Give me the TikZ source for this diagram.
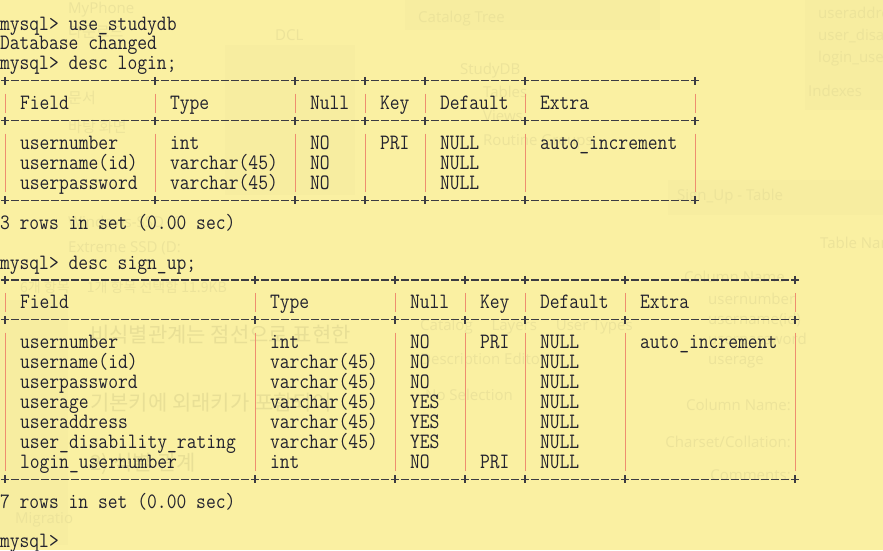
\documentclass[tikz,border=0pt]{standalone}
\usepackage{fontspec}
\setsansfont{Open Sans}
\newfontfamily\krfont{Noto Sans CJK KR}
\usepackage{graphicx}
\definecolor{bg}{RGB}{250,240,162}
\definecolor{fg}{RGB}{34,34,46}
\definecolor{pipec}{RGB}{238,142,112}
\definecolor{dashc}{RGB}{60,60,66}
\definecolor{ghost}{RGB}{236,227,154}
\definecolor{ghostk}{RGB}{232,223,150}
\definecolor{ghostp}{RGB}{247,237,160}
\tikzset{
  txt/.style={anchor=base west, inner sep=0pt, outer sep=0pt,
    font=\ttfamily\fontsize{19.05}{20}\selectfont, text=fg},
  gtxt/.style={anchor=base west, inner sep=0pt, text=ghost,
    font=\sffamily\fontsize{15}{18}\selectfont},
  gkr/.style={anchor=base west, inner sep=0pt, text=ghostk,
    font=\krfont\fontsize{21}{24}\selectfont},
  gpanel/.style={fill=ghostp, draw=none},
  dashline/.style={draw=dashc, line width=1.2pt, dash pattern=on 8pt off 2pt},
  plusline/.style={draw=dashc, line width=1.1pt},
  pipeline/.style={draw=pipec, line width=1.0pt}
}
\newcommand\cells[2]{%
  \foreach \c/\t in {#2}{%
    \node[txt] (n#1x\c) at ({10*\c},{10.1+19.92*#1}) {\scalebox{1}[1.15]{\t}};
  }}
\newcommand\tblborder[3]{%
  \pgfmathsetmacro\yy{10.1+19.92*#1-9}
  \draw[dashline] (1,\yy) -- ({10*#2+9},\yy);
  \foreach \p in {#3}{\draw[plusline] ({10*\p+5},{\yy-4}) -- ({10*\p+5},{\yy+4});}
}
\newcommand\pipes[3]{%
  \pgfmathsetmacro\ya{10.1+19.92*#1-16}
  \pgfmathsetmacro\yb{10.1+19.92*#2+3}
  \foreach \p in {#3}{\draw[pipeline] ({10*\p+5},\ya) -- ({10*\p+5},\yb);}
}
\begin{document}
\begin{tikzpicture}[x=1pt,y=-1pt]
\fill[bg] (0,0) rectangle (883,550);
\useasboundingbox (0,0) rectangle (883,550);

% faint background window (seen through the terminal)
\fill[gpanel] (405,0) rectangle (660,30);
\fill[gpanel] (225,45) rectangle (355,195);
\fill[gpanel] (668,180) rectangle (883,215);
\fill[gpanel] (0,300) rectangle (68,545);
\fill[gpanel] (805,0) rectangle (883,110);
\node[gtxt] (g1) at (68,13) {MyPhone};
\node[gtxt] (g2) at (275,40) {DCL};
\node[gtxt] (g3) at (418,22) {Catalog Tree};
\node[gtxt] (g4) at (460,74) {StudyDB};
\node[gtxt] (g5) at (483,97) {Tables};
\node[gtxt] (g6) at (483,121) {Views};
\node[gtxt] (g7) at (483,145) {Routine Groups};
\node[gtxt] (g8) at (68,227) {Windows-SSD (C};
\node[gtxt] (g9) at (68,252) {Extreme SSD (D:};
\node[gtxt, font=\krfont\fontsize{14}{16}\selectfont] (g10) at (20,292) {6개 항목 \quad 1개 항목 선택함 11.9KB};
\node[gkr] (k1) at (90,342) {비식별관계는 점선으로 표현한};
\node[gkr] (k2) at (90,410) {기본키에 외래키가 포함되어};
\node[gkr] (k3) at (90,470) {2) 식별 관계};
\node[gtxt, font=\krfont\fontsize{15}{18}\selectfont] (k4) at (68,37) {다운로드};
\node[gtxt, font=\krfont\fontsize{15}{18}\selectfont] (k5) at (68,103) {문서};
\node[gtxt, font=\krfont\fontsize{15}{18}\selectfont] (k6) at (68,132) {바탕 화면};
\node[gtxt] (g11) at (15,523) {Migratio};
\node[gtxt] (g12) at (818,18) {useraddress V};
\node[gtxt] (g13) at (818,40) {user\_disabilit};
\node[gtxt] (g14) at (818,62) {login\_usernu};
\node[gtxt] (g15) at (808,96) {Indexes};
\node[gtxt] (g16) at (677,200) {Sign\_Up - Table};
\node[gtxt] (g17) at (820,248) {Table Nam};
\node[gtxt] (g18) at (684,282) {Column Name};
\node[gtxt] (g19) at (708,304) {usernumber};
\node[gtxt] (g20) at (708,324) {username(id)};
\node[gtxt] (g21) at (708,344) {userpassword};
\node[gtxt] (g22) at (708,364) {userage};
\node[gtxt, anchor=base east] (g23) at (791,410) {Column Name:};
\node[gtxt, anchor=base east] (g24) at (791,447) {Charset/Collation:};
\node[gtxt, anchor=base east] (g25) at (791,480) {Comments:};
\node[gtxt] (g26) at (420,330) {Catalog \quad Layers \quad User Types};
\node[gtxt] (g27) at (420,364) {Description Editor};
\node[gtxt] (g28) at (425,400) {No Selection};

% session text
\cells{1}{0/mysql> use\_studydb}
\cells{2}{0/Database changed}
\cells{3}{0/mysql> desc login;}

% login table
\tblborder{4}{69}{0,15,29,36,42,52,69}
\pipes{5}{5}{0,15,29,36,42,52,69}
\cells{5}{2/Field,17/Type,31/Null,38/Key,44/Default,54/Extra}
\tblborder{6}{69}{0,15,29,36,42,52,69}
\pipes{7}{9}{0,15,29,36,42,52,69}
\cells{7}{2/usernumber,17/int,31/NO,38/PRI,44/NULL,54/auto\_increment}
\cells{8}{2/username(id),17/varchar(45),31/NO,44/NULL}
\cells{9}{2/userpassword,17/varchar(45),31/NO,44/NULL}
\tblborder{10}{69}{0,15,29,36,42,52,69}
\cells{11}{0/3 rows in set (0.00 sec)}

\cells{13}{0/mysql> desc sign\_up;}

% sign_up table
\tblborder{14}{79}{0,25,39,46,52,62,79}
\pipes{15}{15}{0,25,39,46,52,62,79}
\cells{15}{2/Field,27/Type,41/Null,48/Key,54/Default,64/Extra}
\tblborder{16}{79}{0,25,39,46,52,62,79}
\pipes{17}{23}{0,25,39,46,52,62,79}
\cells{17}{2/usernumber,27/int,41/NO,48/PRI,54/NULL,64/auto\_increment}
\cells{18}{2/username(id),27/varchar(45),41/NO,54/NULL}
\cells{19}{2/userpassword,27/varchar(45),41/NO,54/NULL}
\cells{20}{2/userage,27/varchar(45),41/YES,54/NULL}
\cells{21}{2/useraddress,27/varchar(45),41/YES,54/NULL}
\cells{22}{2/user\_disability\_rating,27/varchar(45),41/YES,54/NULL}
\cells{23}{2/login\_usernumber,27/int,41/NO,48/PRI,54/NULL}
\tblborder{24}{79}{0,25,39,46,52,62,79}
\cells{25}{0/7 rows in set (0.00 sec)}
\cells{27}{0/mysql>}
\end{tikzpicture}
\end{document}
